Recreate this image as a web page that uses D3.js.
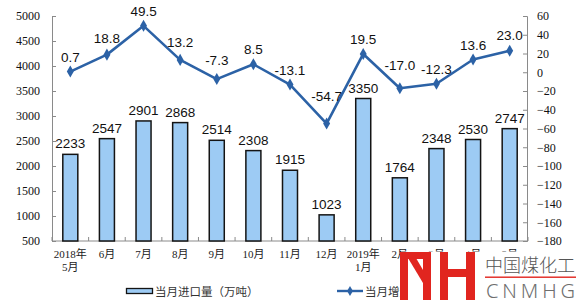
<!DOCTYPE html>
<html><head><meta charset="utf-8">
<script src="https://cdn.jsdelivr.net/npm/d3@7"></script>
<style>html,body{margin:0;padding:0;background:#fff;}svg{display:block;}</style>
</head><body>
<script>
const categories = ["2018年\n5月","6月","7月","8月","9月","10月","11月","12月","2019年\n1月","2月","3月","4月","5月"];
const importVolume = [2233,2547,2901,2868,2514,2308,1915,1023,3350,1764,2348,2530,2747];
const growthRate = [0.7,18.8,49.5,13.2,-7.3,8.5,-13.1,-54.7,19.5,-17.0,-12.3,13.6,23.0];
const leftTicks = [500,1000,1500,2000,2500,3000,3500,4000,4500,5000];
const rightTicks = [-180,-160,-140,-120,-100,-80,-60,-40,-20,0,20,40,60];
const legendLabels = ["当月进口量（万吨）","当月增速（%）"];
const logoTexts = ["中国煤化工","CNMHG"];
// extra lift for a few crowded line labels (px)
const labelLift = [0,2,0,3,4,0,0,13,0,8,0,0,1];

const W = 581, H = 307;
const svg = d3.select("body").append("svg").attr("width",W).attr("height",H);

const x = d3.scaleBand().domain(d3.range(categories.length)).range([52,528]).paddingInner(0.59).paddingOuter(0.295);
const yL = d3.scaleLinear().domain([500,5000]).range([241,16]);
const yR = d3.scaleLinear().domain([-180,60]).range([241,16]);
const axisColor = "#8a8a8a";
const serif = "'Liberation Serif','Times New Roman',serif";
const sans = "'Liberation Sans',Arial,sans-serif";
const cjk = "'Liberation Serif','Noto Sans CJK SC',serif";

// left axis
const gL = svg.append("g").attr("transform","translate(52,0)")
  .call(d3.axisLeft(yL).tickValues(leftTicks).tickSize(-4).tickPadding(12).tickFormat(d3.format("d")));
gL.select(".domain").attr("stroke",axisColor);
gL.selectAll(".tick line").attr("stroke",axisColor);
gL.selectAll(".tick text").attr("font-family",serif).attr("font-size",12).attr("fill","#111");

// right axis
const gR = svg.append("g").attr("transform","translate(527,0)")
  .call(d3.axisRight(yR).tickValues(rightTicks).tickSize(-4).tickPadding(10).tickFormat(d3.format("d")));
gR.select(".domain").attr("stroke",axisColor);
gR.selectAll(".tick line").attr("stroke",axisColor);
gR.selectAll(".tick text").attr("font-family",serif).attr("font-size",12).attr("fill","#111");

// bottom axis
const gB = svg.append("g");
gB.append("line").attr("x1",52).attr("x2",528).attr("y1",241).attr("y2",241).attr("stroke",axisColor);
const step = x.step();
d3.range(categories.length+1).forEach(i=>{
  const bx = 52 + i*step;
  gB.append("line").attr("x1",bx).attr("x2",bx).attr("y1",241).attr("y2",237).attr("stroke",axisColor);
});

// bars
svg.append("g").selectAll("rect").data(importVolume).join("rect")
  .attr("x",(d,i)=>x(i)).attr("width",x.bandwidth())
  .attr("y",d=>yL(d)).attr("height",d=>yL(500)-yL(d))
  .attr("fill","#9dcbf4").attr("stroke","#141414").attr("stroke-width",1.5);
svg.append("g").selectAll("text").data(importVolume).join("text")
  .attr("x",(d,i)=>x(i)+x.bandwidth()/2).attr("y",d=>yL(d)-6)
  .attr("text-anchor","middle").attr("font-family",sans).attr("font-size",13.5).attr("fill","#111")
  .text(d=>d);

// line
const cx = i => x(i)+x.bandwidth()/2;
const lineColor = "#2c62a6";
svg.append("path").datum(growthRate)
  .attr("d",d3.line().x((d,i)=>cx(i)).y(d=>yR(d)))
  .attr("fill","none").attr("stroke",lineColor).attr("stroke-width",2.6).attr("stroke-linejoin","round");
svg.append("g").selectAll("path").data(growthRate).join("path")
  .attr("transform",(d,i)=>`translate(${cx(i)},${yR(d)})`)
  .attr("d",d3.symbol(d3.symbolDiamond,42)).attr("fill",lineColor);
svg.append("g").selectAll("text").data(growthRate).join("text")
  .attr("x",(d,i)=>cx(i)).attr("y",(d,i)=>yR(d)-10-labelLift[i])
  .attr("text-anchor","middle").attr("font-family",sans).attr("font-size",13.5).attr("fill","#111")
  .text(d=>d.toFixed(1));

// x labels
const xl = svg.append("g").selectAll("text").data(categories).join("text")
  .attr("text-anchor","middle").attr("font-family",cjk).attr("font-size",11).attr("fill","#222");
xl.each(function(d,i){
  const t = d3.select(this);
  d.split("\n").forEach((s,k)=>{
    t.append("tspan").attr("x",cx(i)).attr("y",258+k*12.5).text(s);
  });
});

// legend
const lg = svg.append("g");
lg.append("rect").attr("x",126.5).attr("y",288.5).attr("width",26).attr("height",5)
  .attr("fill","#9dcbf4").attr("stroke","#141414").attr("stroke-width",1.3);
lg.append("text").attr("x",155).attr("y",295.5).attr("font-family","'Noto Sans CJK SC',sans-serif")
  .attr("font-size",11.5).attr("fill","#333").text(legendLabels[0]);
lg.append("line").attr("x1",337).attr("x2",363).attr("y1",291).attr("y2",291).attr("stroke",lineColor).attr("stroke-width",2.4);
lg.append("path").attr("transform","translate(350,291)").attr("d",d3.symbol(d3.symbolDiamond,30)).attr("fill",lineColor);
lg.append("text").attr("x",365).attr("y",295.5).attr("font-family","'Noto Sans CJK SC',sans-serif")
  .attr("font-size",11.5).attr("fill","#333").text(legendLabels[1]);

// watermark logo
const logo = svg.append("g");
logo.append("rect").attr("x",401).attr("y",251.5).attr("width",180).attr("height",56).attr("fill","#fff");
const red = "#e1251f";
// M: left stem + top bar + diagonal + right stem
logo.append("path").attr("fill",red).attr("d",
  "M400,252 H431 V300 H423 V259 H408 V300 H400 Z");
logo.append("path").attr("fill",red).attr("d",
  "M408,258 H416 L423,270 V283 Z");
// H
logo.append("path").attr("fill",red).attr("d",
  "M440,252 H448 V269 H466 V252 H475 V300 H466 V277 H448 V300 H440 Z");
logo.append("text").attr("x",485).attr("y",272).attr("font-family","'Noto Sans CJK SC',sans-serif")
  .attr("font-weight",300).attr("font-size",18).attr("textLength",90).attr("lengthAdjust","spacing")
  .attr("fill","#555").text(logoTexts[0]);
logo.append("rect").attr("x",485).attr("y",276.5).attr("width",91).attr("height",1.4).attr("fill",red);
logo.append("text").attr("x",486).attr("y",298).attr("font-family","'Noto Sans',sans-serif")
  .attr("font-weight",300).attr("font-size",20).attr("textLength",89).attr("lengthAdjust","spacing")
  .attr("fill","#6e6e6e").text(logoTexts[1]);
</script>
</body></html>
